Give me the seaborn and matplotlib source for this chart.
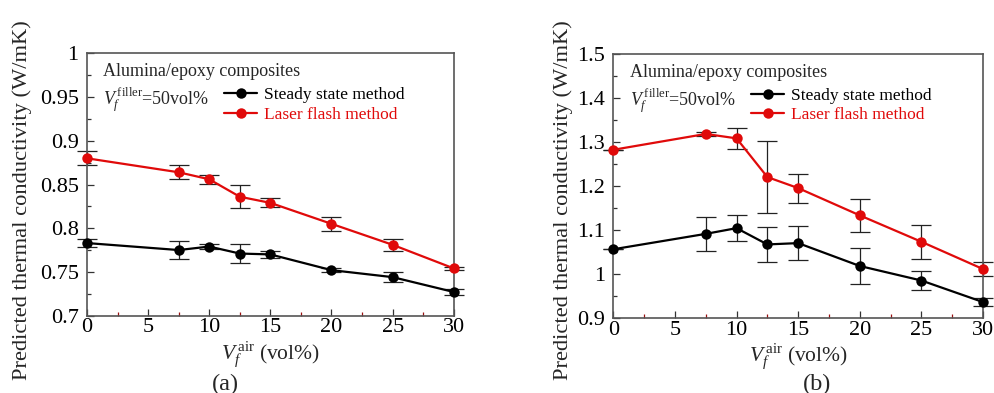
import numpy as np
import pandas as pd
import matplotlib
matplotlib.use("Agg")
import matplotlib.pyplot as plt
from matplotlib.ticker import MultipleLocator, FuncFormatter
import seaborn as sns

# air volume fraction (vol%)
v_air = [0, 7.5, 10, 12.5, 15, 20, 25, 30]

# panel (a)
steady_a = [0.783, 0.775, 0.779, 0.771, 0.770, 0.752, 0.744, 0.727]
steady_a_err = [0.005, 0.010, 0.003, 0.011, 0.004, 0.002, 0.006, 0.003]
laser_a = [0.880, 0.864, 0.856, 0.836, 0.829, 0.805, 0.781, 0.754]
laser_a_err = [0.008, 0.008, 0.005, 0.013, 0.005, 0.008, 0.007, 0.002]

# panel (b)
steady_b = [1.056, 1.091, 1.104, 1.067, 1.070, 1.018, 0.985, 0.936]
steady_b_err = [0.0, 0.039, 0.030, 0.040, 0.038, 0.040, 0.021, 0.010]
laser_b = [1.282, 1.318, 1.308, 1.220, 1.195, 1.133, 1.073, 1.011]
laser_b_err = [0.0, 0.005, 0.024, 0.081, 0.033, 0.038, 0.039, 0.016]

sns.set_theme(style="ticks")
plt.rcParams['font.family'] = ['Liberation Serif', 'DejaVu Serif']
plt.rcParams['mathtext.fontset'] = 'custom'
plt.rcParams['mathtext.rm'] = 'Liberation Serif'
plt.rcParams['mathtext.it'] = 'Liberation Serif:italic'

RED = '#e00a0a'
BLACK = '#000000'

fig = plt.figure(figsize=(9.94, 3.93), dpi=100)
ax_a = fig.add_axes([0.0875, 0.197, 0.369, 0.667])
ax_b = fig.add_axes([0.617, 0.191, 0.372, 0.672])


def draw_panel(ax, steady, steady_err, laser, laser_err, ylim, major, minor,
               tag, ylabel_x, tag_x):
    df = pd.DataFrame({'v': v_air * 2,
                       'k': steady + laser,
                       'method': ['Steady state method'] * len(v_air) +
                                 ['Laser flash method'] * len(v_air)})
    for y, e in [(steady, steady_err), (laser, laser_err)]:
        ax.errorbar(v_air, y, yerr=e, fmt='none', ecolor='#222222',
                    elinewidth=0.9, capsize=7, capthick=0.9, zorder=2,
                    clip_on=False)
    sns.lineplot(data=df, x='v', y='k', hue='method',
                 palette={'Steady state method': BLACK,
                          'Laser flash method': RED},
                 marker='o', markersize=7.5, markeredgewidth=0,
                 linewidth=1.6, ax=ax, zorder=3, clip_on=False)

    ax.set_xlim(0, 30)
    ax.set_ylim(*ylim)
    ax.xaxis.set_major_locator(MultipleLocator(5))
    ax.xaxis.set_minor_locator(MultipleLocator(2.5))
    ax.yaxis.set_major_locator(MultipleLocator(major))
    ax.yaxis.set_minor_locator(MultipleLocator(minor))
    ax.yaxis.set_major_formatter(FuncFormatter(lambda v, p: f'{v:.2f}'.rstrip('0').rstrip('.')))
    ax.tick_params(which='both', direction='in', top=False, right=False,
                   labelsize=16, colors='#333333', labelcolor='black')
    ax.tick_params(which='major', length=5, width=0.9, pad=2)
    ax.tick_params(axis='y', which='major', pad=6)
    ax.tick_params(which='minor', length=3, width=0.9)
    ax.tick_params(axis='x', which='minor', colors='#9a1010')
    for s in ax.spines.values():
        s.set_color('#555555')
        s.set_linewidth(1.2)

    ax.set_xlabel(r'$V_f^{\,\mathrm{air}}$ (vol%)', fontsize=15.5, labelpad=1)
    ax.set_ylabel('')
    fig.text(ylabel_x, 0.49, 'Predicted thermal conductivity (W/mK)',
             rotation=90, fontsize=16.2, ha='center', va='center')
    fig.text(tag_x, 0.022, tag, fontsize=17.5, ha='center', va='center')

    ax.text(0.045, 0.93, 'Alumina/epoxy composites', transform=ax.transAxes,
            fontsize=13, ha='left', va='center')
    ax.text(0.045, 0.82, r'$V_f^{\,\mathrm{filler}}$=50vol%',
            transform=ax.transAxes, fontsize=13, ha='left', va='center')

    leg = ax.legend(loc='upper left', bbox_to_anchor=(0.35, 0.905),
                    frameon=False, fontsize=12.5, handlelength=1.9,
                    handletextpad=0.4, labelspacing=0.2, borderpad=0,
                    labelcolor=[BLACK, RED])
    return leg


draw_panel(ax_a, steady_a, steady_a_err, laser_a, laser_a_err,
           (0.7, 1.0), 0.05, 0.025, '(a)', 0.022, 0.227)
draw_panel(ax_b, steady_b, steady_b_err, laser_b, laser_b_err,
           (0.9, 1.5), 0.1, 0.05, '(b)', 0.567, 0.822)

fig.savefig('out.png', dpi=100)
